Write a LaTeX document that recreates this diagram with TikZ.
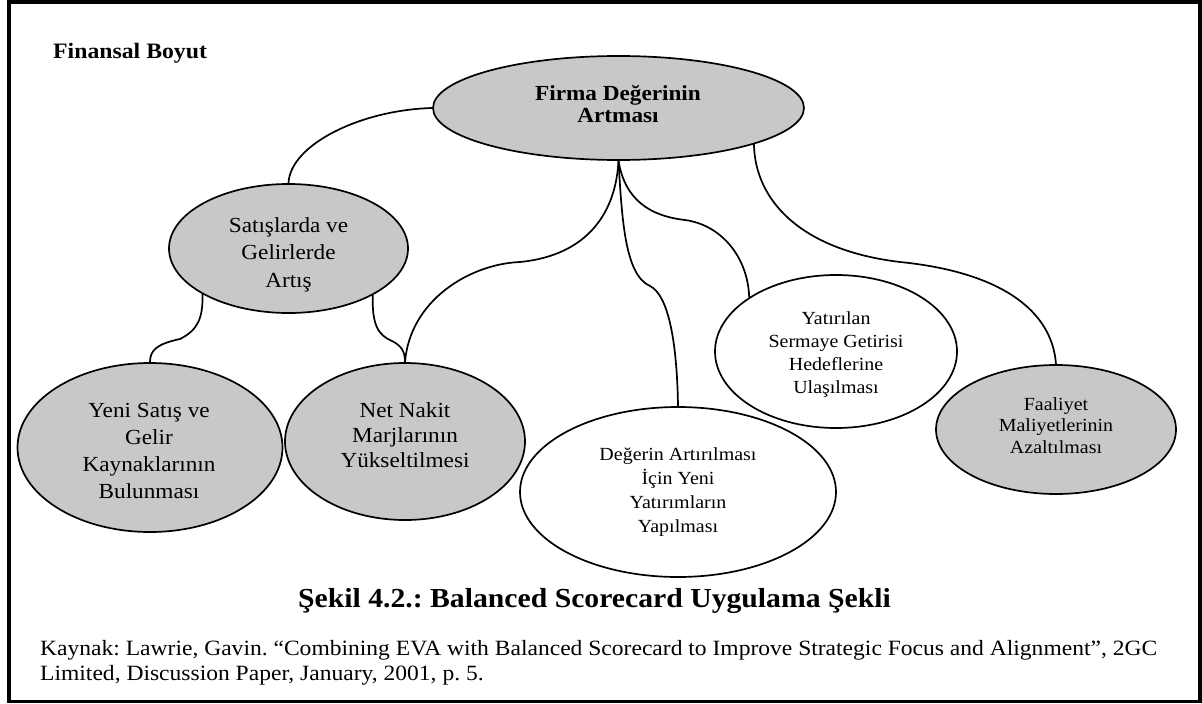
\documentclass[tikz,border=0pt]{standalone}
\usepackage{fontspec}
\setmainfont{Liberation Serif}[FakeStretch=1.08]
\usetikzlibrary{shapes.geometric}
\definecolor{ellgray}{RGB}{200,200,200}
\frenchspacing
\begin{document}
\begin{tikzpicture}[x=1pt,y=-1pt,
  ell/.style={ellipse,draw=black,line width=1.7pt,inner sep=0pt},
  grayell/.style={ell,fill=ellgray},
  whiteell/.style={ell,fill=white},
  conn/.style={line width=1.7pt,line cap=round},
  lbl/.style={inner sep=0pt,align=center,anchor=base},
  bigtxt/.style={font=\fontsize{21.5}{#1}\selectfont},
  smalltxt/.style={font=\fontsize{18.5}{#1}\selectfont}
]
\useasboundingbox (0,0) rectangle (1202,704);
\draw[line width=3.5pt] (9,1.75) rectangle (1200,701.5);

% ellipses
\node[grayell,minimum width=371pt,minimum height=104pt] (firma) at (618.5,108) {};
\node[grayell,minimum width=239pt,minimum height=129pt] (sat) at (288.5,248.5) {};
\node[grayell,minimum width=265pt,minimum height=169pt] (yeni) at (150,447.5) {};
\node[grayell,minimum width=240pt,minimum height=157pt] (net) at (405,441.5) {};
\node[whiteell,minimum width=316pt,minimum height=170pt] (deg) at (678,492) {};
\node[whiteell,minimum width=242pt,minimum height=153pt] (yat) at (836,351.5) {};
\node[grayell,minimum width=240pt,minimum height=129pt] (faal) at (1056,429.5) {};

% texts (anchored at the baseline of the last line)
\node[lbl,font=\fontsize{21.5}{22}\selectfont\bfseries] (firmaT) at (618,122) {Firma Değerinin\\Artması};
\node[lbl,bigtxt=27.5] (satT) at (288.5,287) {Satışlarda ve\\Gelirlerde\\Artış};
\node[lbl,bigtxt=26.7] (yeniT) at (149,498) {Yeni Satış ve\\Gelir\\Kaynaklarının\\Bulunması};
\node[lbl,bigtxt=25] (netT) at (405,467) {Net Nakit\\Marjlarının\\Yükseltilmesi};
\node[lbl,smalltxt=24] (degT) at (678,532) {Değerin Artırılması\\İçin Yeni\\Yatırımların\\Yapılması};
\node[lbl,smalltxt=22.7] (yatT) at (836,393) {Yatırılan\\Sermaye Getirisi\\Hedeflerine\\Ulaşılması};
\node[lbl,smalltxt=21.5] (faalT) at (1056,453) {Faaliyet\\Maliyetlerinin\\Azaltılması};

\node[anchor=base west,inner sep=0pt,font=\fontsize{22}{26}\selectfont\bfseries] (title) at (53,58) {Finansal Boyut};
\node[anchor=base,inner sep=0pt,font=\fontsize{27.5}{32}\selectfont\bfseries] (cap) at (594.5,607) {Şekil 4.2.: Balanced Scorecard Uygulama Şekli};
\node[anchor=base west,inner sep=0pt,font=\fontsize{21.8}{26}\selectfont] (src1) at (40,655) {Kaynak: Lawrie, Gavin. “Combining EVA with Balanced Scorecard to Improve Strategic Focus and Alignment”, 2GC};
\node[anchor=base west,inner sep=0pt,font=\fontsize{21.8}{26}\selectfont] (src2) at (40,680) {Limited, Discussion Paper, January, 2001, p. 5.};

% connectors
\draw[conn] (firma.west) .. controls (360,110) and (290,145) .. (sat.north);
\draw[conn] (firma.south) .. controls (616,210) and (590,255) .. (520,262) .. controls (470,264) and (410,300) .. (net.north);
\draw[conn] (firma.south) .. controls (622,220) and (625,275) .. (650,286) .. controls (668,295) and (677,340) .. (deg.north);
\draw[conn] (firma.south) .. controls (625,200) and (650,216) .. (685,220) .. controls (722,225) and (748,258) .. (yat.148);
\draw[conn] (firma.-15) .. controls (755,200) and (800,250) .. (900,262) .. controls (1000,272) and (1052,310) .. (faal.north);
\draw[conn] (sat.-152) .. controls (203,318) and (198,330) .. (180,339) .. controls (157,344) and (150,350) .. (yeni.north);
\draw[conn] (sat.-29) .. controls (372,325) and (378,335) .. (392,341) .. controls (402,346) and (405,352) .. (net.north);
\end{tikzpicture}
\end{document}
